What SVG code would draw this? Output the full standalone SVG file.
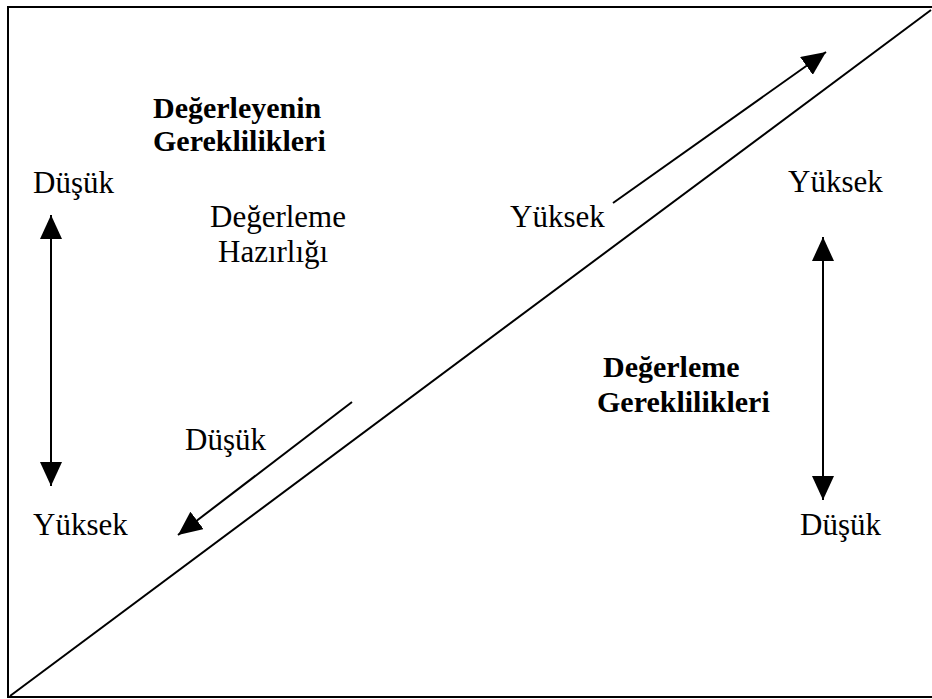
<svg xmlns="http://www.w3.org/2000/svg" width="932" height="699" viewBox="0 0 932 699">
<style>
.t{font-family:"Liberation Serif","Times New Roman",serif;font-size:31px;fill:#000}
.b{font-family:"Liberation Serif","Times New Roman",serif;font-size:30px;font-weight:bold;fill:#000}
.ln{stroke:#000;stroke-width:2;fill:none}
</style>
<defs>
<marker id="ah" markerUnits="userSpaceOnUse" markerWidth="26" markerHeight="22" refX="24" refY="11" orient="auto-start-reverse">
<path d="M0,0 L24,11 L0,22 Z" fill="#000"/>
</marker>
</defs>
<rect x="8" y="7" width="926" height="690" class="ln"/>
<g id="connectors">
<line x1="10" y1="696" x2="931" y2="10" class="ln"/>
<line x1="51" y1="215" x2="51" y2="486" class="ln" marker-start="url(#ah)" marker-end="url(#ah)"/>
<line x1="823" y1="237" x2="823" y2="500" class="ln" marker-start="url(#ah)" marker-end="url(#ah)"/>
<line x1="613" y1="203" x2="826" y2="52" class="ln" marker-end="url(#ah)"/>
<line x1="352" y1="402" x2="178" y2="535" class="ln" marker-end="url(#ah)"/>
</g>
<g id="title-left"><text class="b" x="153" y="118">Değerleyenin</text><text class="b" x="153" y="151">Gereklilikleri</text></g>
<g id="title-right"><text class="b" x="603" y="377">Değerleme</text><text class="b" x="597" y="412">Gereklilikleri</text></g>
<g id="prep"><text class="t" x="210" y="227">Değerleme</text><text class="t" x="218" y="262">Hazırlığı</text></g>
<g id="left-low"><text class="t" x="33" y="193">Düşük</text></g>
<g id="left-high"><text class="t" x="33" y="535">Yüksek</text></g>
<g id="right-high"><text class="t" x="788" y="192">Yüksek</text></g>
<g id="right-low"><text class="t" x="800" y="535">Düşük</text></g>
<g id="diag-high"><text class="t" x="510" y="227">Yüksek</text></g>
<g id="diag-low"><text class="t" x="185" y="450">Düşük</text></g>
</svg>
